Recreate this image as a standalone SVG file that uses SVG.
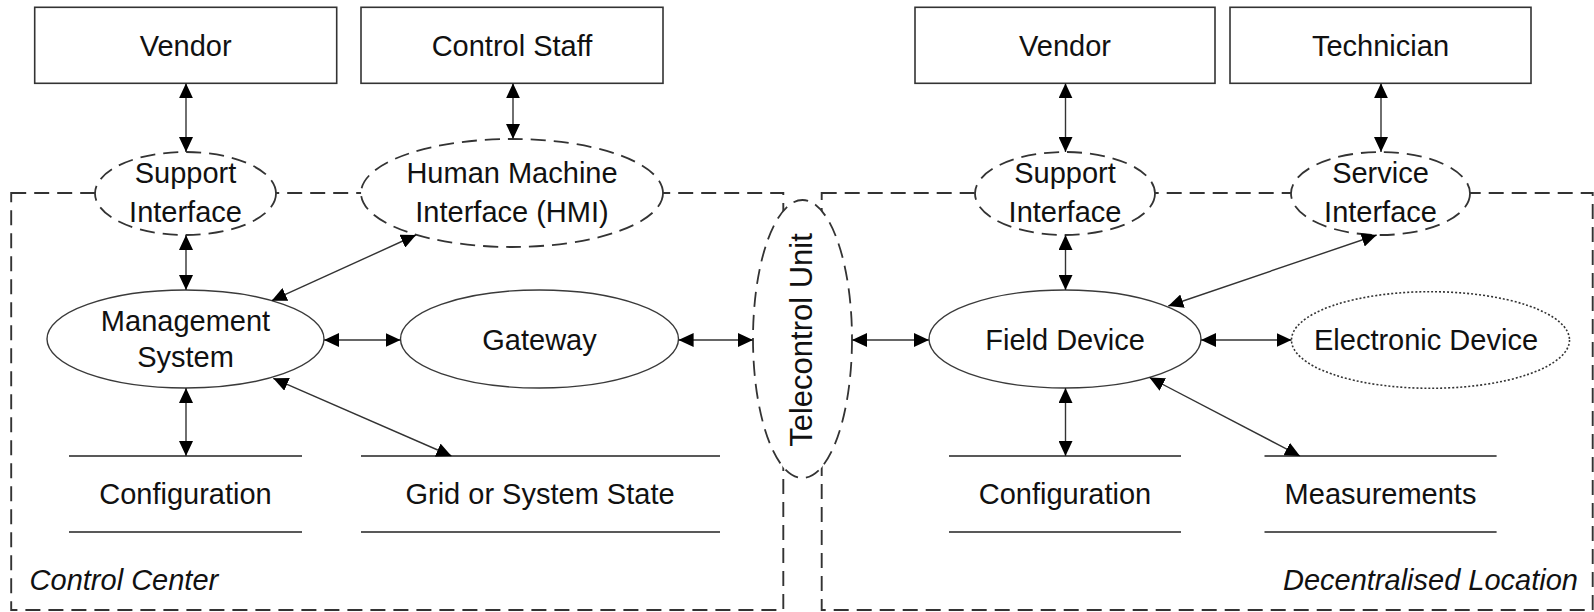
<svg xmlns="http://www.w3.org/2000/svg" width="1594" height="612" viewBox="0 0 1594 612">
<style>
.box{fill:#fff;stroke:#333;stroke-width:1.6}
.area{fill:none;stroke:#333;stroke-width:1.9;stroke-dasharray:15 8}
.ell{fill:#fff;stroke:#3a3a3a;stroke-width:1.4}
.dash{stroke-dasharray:15 8;stroke-width:1.8;stroke:#333}
.dot{stroke-dasharray:2 2;stroke:#333;stroke-width:1.6}
.lbl{font-family:"Liberation Sans",Arial,sans-serif;font-size:29px;fill:#111;text-anchor:middle}
.it{font-style:italic;text-anchor:start}
.cn line{stroke:#333;stroke-width:1.4;marker-start:url(#ah);marker-end:url(#ah)}
.store{stroke:#222;stroke-width:1.6}
</style>
<defs>
<marker id="ah" viewBox="0 0 15 14" refX="15" refY="7" markerWidth="15" markerHeight="14" markerUnits="userSpaceOnUse" orient="auto-start-reverse">
<path d="M0,0 L15,7 L0,14 Z" fill="#000"/>
</marker>
</defs>

<g id="areas">
<rect class="area" x="11.2" y="193" width="772.1" height="417"/>
<rect class="area" x="821.7" y="193" width="771" height="417"/>
</g>

<g id="vendor-left"><rect class="box" x="34.7" y="7.3" width="302" height="76"/><text class="lbl" x="185.7" y="55.5">Vendor</text></g>
<g id="control-staff"><rect class="box" x="361" y="7.3" width="302" height="76"/><text class="lbl" x="512" y="55.5">Control Staff</text></g>
<g id="vendor-right"><rect class="box" x="915" y="7.3" width="300" height="76"/><text class="lbl" x="1065" y="55.5">Vendor</text></g>
<g id="technician"><rect class="box" x="1230" y="7.3" width="301" height="76"/><text class="lbl" x="1380.5" y="55.5">Technician</text></g>

<g id="support-left"><ellipse class="ell dash" cx="185.5" cy="193.5" rx="90.5" ry="41.5"/><text class="lbl" x="185.5" y="183">Support</text><text class="lbl" x="185.5" y="222">Interface</text></g>
<g id="hmi"><ellipse class="ell dash" cx="512" cy="193" rx="151" ry="54"/><text class="lbl" x="512" y="183">Human Machine</text><text class="lbl" x="512" y="222">Interface (HMI)</text></g>
<g id="support-right"><ellipse class="ell dash" cx="1065" cy="193.5" rx="90" ry="41.5"/><text class="lbl" x="1065" y="183">Support</text><text class="lbl" x="1065" y="222">Interface</text></g>
<g id="service"><ellipse class="ell dash" cx="1380.5" cy="193.5" rx="89.5" ry="41.5"/><text class="lbl" x="1380.5" y="183">Service</text><text class="lbl" x="1380.5" y="222">Interface</text></g>

<g id="management"><ellipse class="ell" cx="185.5" cy="339" rx="138.5" ry="49"/><text class="lbl" x="185.5" y="331">Management</text><text class="lbl" x="185.5" y="367">System</text></g>
<g id="gateway"><ellipse class="ell" cx="539.5" cy="339" rx="139" ry="49"/><text class="lbl" x="539.5" y="350">Gateway</text></g>
<g id="telecontrol"><ellipse class="ell dash" cx="802.5" cy="339" rx="49.5" ry="139"/><text class="lbl" style="font-size:31px" transform="translate(812,340) rotate(-90)" x="0" y="0">Telecontrol Unit</text></g>
<g id="field-device"><ellipse class="ell" cx="1065" cy="339" rx="136" ry="49"/><text class="lbl" x="1065" y="350">Field Device</text></g>
<g id="electronic-device"><ellipse class="ell dot" cx="1430.5" cy="340" rx="139" ry="48.3"/><text class="lbl" x="1426" y="350">Electronic Device</text></g>

<g id="config-left"><line class="store" x1="69" y1="456" x2="302" y2="456"/><line class="store" x1="69" y1="532" x2="302" y2="532"/><text class="lbl" x="185.5" y="504">Configuration</text></g>
<g id="grid-state"><line class="store" x1="361" y1="456" x2="720" y2="456"/><line class="store" x1="361" y1="532" x2="720" y2="532"/><text class="lbl" x="540" y="504">Grid or System State</text></g>
<g id="config-right"><line class="store" x1="949" y1="456" x2="1181" y2="456"/><line class="store" x1="949" y1="532" x2="1181" y2="532"/><text class="lbl" x="1065" y="504">Configuration</text></g>
<g id="measurements"><line class="store" x1="1264.5" y1="456" x2="1496.6" y2="456"/><line class="store" x1="1264.5" y1="532" x2="1496.6" y2="532"/><text class="lbl" x="1380.5" y="504">Measurements</text></g>

<g id="area-labels">
<text class="lbl it" x="29.6" y="590">Control Center</text>
<text class="lbl it" x="1578" y="590" style="text-anchor:end">Decentralised Location</text>
</g>

<g id="connectors" class="cn">
<line x1="186" y1="83.3" x2="186" y2="152"/>
<line x1="513" y1="83.3" x2="513" y2="139"/>
<line x1="186" y1="235" x2="186" y2="290"/>
<line x1="416" y1="235" x2="271.7" y2="300.7"/>
<line x1="324" y1="340" x2="400.5" y2="340"/>
<line x1="678.6" y1="340" x2="753" y2="340"/>
<line x1="186" y1="388" x2="186" y2="456"/>
<line x1="273.3" y1="378.3" x2="451.5" y2="456"/>
<line x1="852" y1="340" x2="929" y2="340"/>
<line x1="1065.5" y1="83.3" x2="1065.5" y2="152"/>
<line x1="1381" y1="83.3" x2="1381" y2="152"/>
<line x1="1065.5" y1="235" x2="1065.5" y2="290"/>
<line x1="1376.7" y1="235" x2="1168.3" y2="306"/>
<line x1="1201" y1="340" x2="1291.5" y2="340"/>
<line x1="1065.5" y1="388" x2="1065.5" y2="456"/>
<line x1="1149.5" y1="377.5" x2="1300" y2="456"/>
</g>
</svg>
